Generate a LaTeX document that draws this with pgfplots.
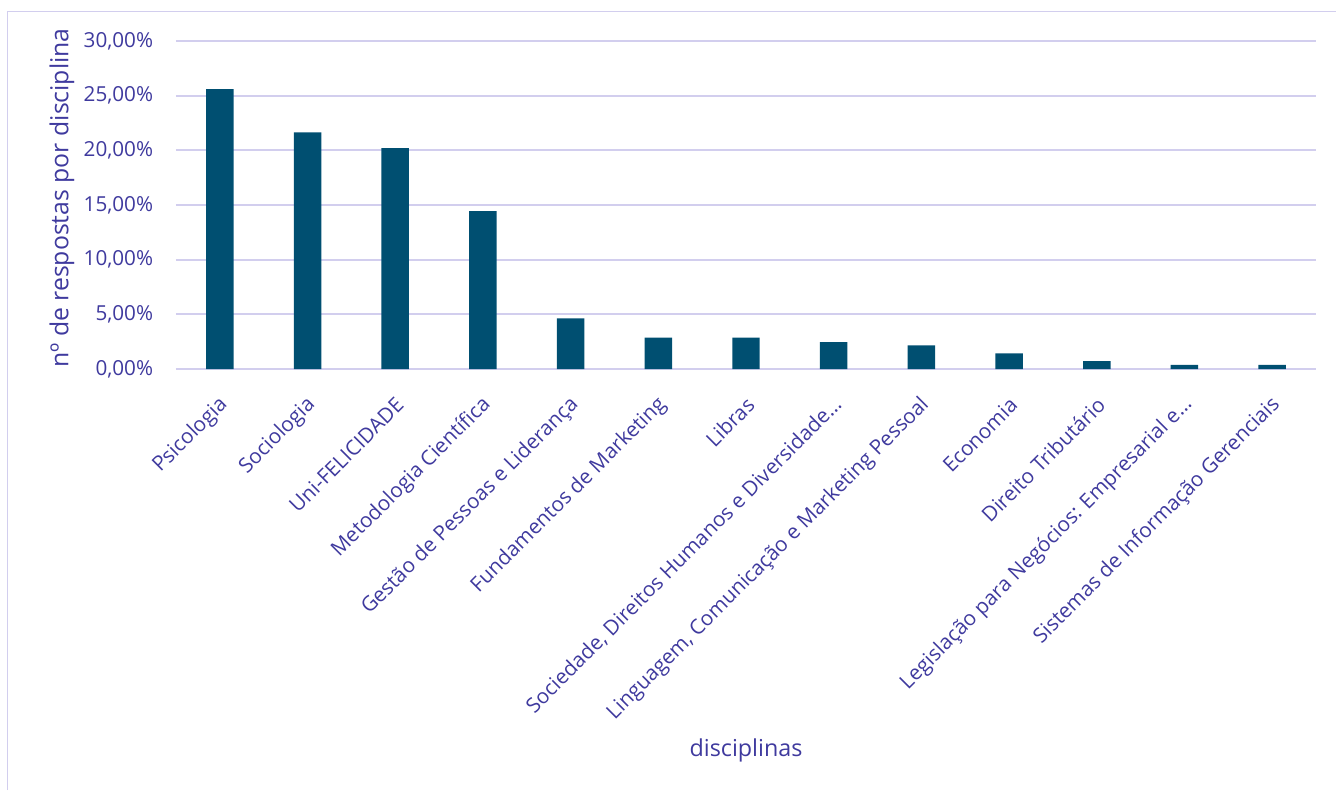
\documentclass[border=0pt]{standalone}
\usepackage{pgfplots}
\pgfplotsset{compat=1.18}
\usepackage{fontspec}
\setmainfont{Open Sans}
\definecolor{txt}{HTML}{3F3A9E}
\definecolor{gridc}{HTML}{D2CEEE}
\definecolor{barc}{HTML}{004F71}
\begin{document}
\begin{tikzpicture}
\useasboundingbox (0,0) rectangle (1002pt,-592.5pt);
\draw[gridc, line width=1.4pt] (5.6pt,-592.5pt) -- (5.6pt,-8.6pt) -- (1002pt,-8.6pt);
\begin{axis}[
  at={(132pt,-276.75pt)}, anchor=south west,
  scale only axis, width=855pt, height=246pt,
  xmin=-0.5, xmax=12.5, ymin=0, ymax=30,
  ytick={0,5,10,15,20,25,30},
  yticklabels={{0,00\%},{5,00\%},{10,00\%},{15,00\%},{20,00\%},{25,00\%},{30,00\%}},
  xtick={0,1,2,3,4,5,6,7,8,9,10,11,12},
  xticklabels={Psicologia,Sociologia,Uni-FELICIDADE,Metodologia Científica,Gestão de Pessoas e Liderança,Fundamentos de Marketing,Libras,{Sociedade, Direitos Humanos e Diversidade…},{Linguagem, Comunicação e Marketing Pessoal},Economia,Direito Tributário,Legislação para Negócios: Empresarial e…,Sistemas de Informação Gerenciais},
  axis line style={draw=none},
  major tick style={draw=none},
  ymajorgrids, grid style={gridc, line width=1.4pt},
  ybar, bar width=20.6pt,
  yticklabel style={font=\fontsize{15.5}{18}\selectfont, text=txt, anchor=east, inner sep=0pt, xshift=-17pt},
  xticklabel style={font=\fontsize{15.5}{18}\selectfont, text=txt, xshift=3.5pt, yshift=-20pt, rotate=45, anchor=east, inner sep=0pt},
  xlabel={disciplinas},
  ylabel={nº de respostas por disciplina},
  xlabel style={font=\fontsize{17.5}{20}\selectfont, text=txt, at={(axis description cs:0.5,-1.162)}, anchor=center},
  ylabel style={font=\fontsize{18.6}{21}\selectfont, text=txt, at={(axis description cs:-0.1,0.521)}, anchor=center, rotate=0},
]
\addplot[fill=barc, draw=none] coordinates {
(0,25.6) (1,21.65) (2,20.2) (3,14.45) (4,4.63) (5,2.86) (6,2.86) (7,2.47) (8,2.16) (9,1.43) (10,0.73) (11,0.37) (12,0.37)
};
\end{axis}
\end{tikzpicture}
\end{document}
